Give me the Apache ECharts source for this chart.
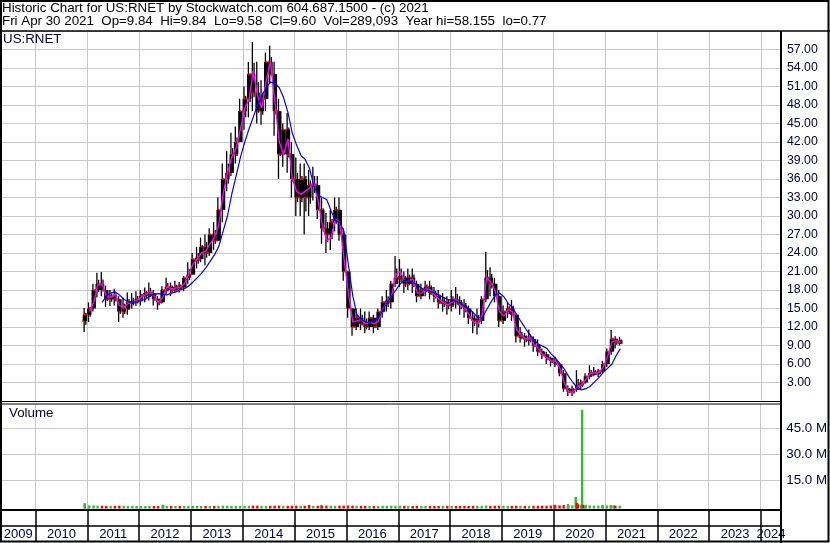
<!DOCTYPE html>
<html><head><meta charset="utf-8">
<script src="https://cdn.jsdelivr.net/npm/echarts@6/dist/echarts.min.js"></script>
<style>html,body{margin:0;padding:0;background:#fff}#c{width:830px;height:543px}</style>
</head><body><div id="c"></div>
<script>
// ---------- data (monthly) ----------
const months = [
 '2010-12',
 '2011-01','2011-02','2011-03','2011-04','2011-05','2011-06','2011-07','2011-08','2011-09','2011-10','2011-11','2011-12',
 '2012-01','2012-02','2012-03','2012-04','2012-05','2012-06','2012-07','2012-08','2012-09','2012-10','2012-11','2012-12',
 '2013-01','2013-02','2013-03','2013-04','2013-05','2013-06','2013-07','2013-08','2013-09','2013-10','2013-11','2013-12',
 '2014-01','2014-02','2014-03','2014-04','2014-05','2014-06','2014-07','2014-08','2014-09','2014-10','2014-11','2014-12',
 '2015-01','2015-02','2015-03','2015-04','2015-05','2015-06','2015-07','2015-08','2015-09','2015-10','2015-11','2015-12',
 '2016-01','2016-02','2016-03','2016-04','2016-05','2016-06','2016-07','2016-08','2016-09','2016-10','2016-11','2016-12',
 '2017-01','2017-02','2017-03','2017-04','2017-05','2017-06','2017-07','2017-08','2017-09','2017-10','2017-11','2017-12',
 '2018-01','2018-02','2018-03','2018-04','2018-05','2018-06','2018-07','2018-08','2018-09','2018-10','2018-11','2018-12',
 '2019-01','2019-02','2019-03','2019-04','2019-05','2019-06','2019-07','2019-08','2019-09','2019-10','2019-11','2019-12',
 '2020-01','2020-02','2020-03','2020-04','2020-05','2020-06','2020-07','2020-08','2020-09','2020-10','2020-11','2020-12',
 '2021-01','2021-02','2021-03','2021-04'
];
const priceHigh = [
 15.1,
 16,19,20.8,20.9,18.7,18,18.2,17,16.8,17.6,17.5,17.8,
 18,18.4,19.2,18,17,18.6,20,19.2,19.5,19.3,20.3,22.5,
 24,25,26.5,27,28,29,33,38.5,40.5,43.5,44.5,49,
 51,55,58.2,55,52,56.5,57.6,55,49,45,46.7,42,
 39.5,38.5,38.5,37.5,38,36.5,33,30.5,31,33,33,28,
 21,15,15,15,14.5,14.5,14,15,17,18,19.5,23.5,
 23,21,21.5,21.5,19.5,19,19.5,19.5,18.5,18,17.5,17,
 18,18.5,17,16.5,15.5,14.5,15,17,24.2,21.7,20,18,
 15.5,16,16.4,13.5,12,11,11.6,10.5,10,8.5,8,7.2,
 7.2,6.3,5,2.5,2.5,5,3.5,4.5,5.8,5.5,5.2,6.5,
 8.5,11.5,10.5,10.4
];
const priceLow = [
 11.2,
 12.8,14.5,16.8,17,15.2,15.4,15.5,12.8,13.5,14,15,15.4,
 15.5,16,16.3,15.5,14.8,15.8,17.3,17,17.6,17.6,17.8,19,
 20.5,21.5,22.5,22,23.5,24.5,26,29,34,36.5,38.5,42,
 44,46,47,45,44.8,47,51.5,43,36,38,37,33,
 30,30,27,30,32.5,29.5,25.5,24,24.5,27.5,26,19.5,
 13.5,10.6,11.5,11.5,11,11.5,11,11.5,13.5,14.5,15,18.5,
 18.5,17.5,18,17.5,16,16.5,17,16.5,16,15,14.5,14,
 14.5,15,14,13.5,12.5,11,10.8,12.5,16,17,16,12,
 12.5,13.5,13,9.5,9.5,8.8,9,8,7.3,6.8,6,5.6,
 5.5,4,1.5,0.8,0.8,1.5,1.8,2.8,3.5,4,3.9,4.5,
 5.5,7.5,8.5,9
];
const priceOpen = [
 13,
 14,15,18,19,18,16.5,17,16.5,14.5,15,16,16,
 16.5,17,17.5,17.5,16.5,16,18,18.5,18,18.5,18.4,20,
 20.5,23,23,25,24,27,26,31,36,37,40,42,
 47,49,53,50,47,49,55,53,47,40,44,40,
 36,33,36,33,35,35,31,28,27,29,31,27,
 21,15,12,13.5,12.5,12,13.5,12,14.5,16,16,19,
 20,20,19,20,19,17,18,18.5,17.5,17,16,16,
 15.5,16.5,16,15.5,15,13.5,13,13,16.5,20,19,17,
 13,14.5,15,14,10.5,10.5,10,10,9,8,7.5,7,
 6.5,6,4.5,2,1.5,1.8,2.5,3,4,4.5,4.5,4.8,
 6,8,10,9.5
];
const priceClose = [
 14,
 15,18,19,18,16.5,17,16.5,14.5,15,16,16,16.5,
 17,17.5,17.5,16.5,16,18,18.5,18,18.5,18.4,20,20.5,
 23,23,25,24,27,26,31,36,37,40,42,47,
 49,53,50,47,49,55,53,47,40,44,40,36,
 33,36,33,35,35,31,28,27,29,31,27,21,
 15,12,13.5,12.5,12,13.5,12,14.5,16,16,19,20,
 20,19,20,19,17,18,18.5,17.5,17,16,16,15.5,
 16.5,16,15.5,15,13.5,13,13,16.5,20,19,17,13,
 14.5,15,14,10.5,10.5,10,10,9,8,7.5,7,6.5,
 6,4.5,2,1.5,1.8,2.5,3,4,4.5,4.5,4.8,6,
 8,10,9.5,9.6
];
const maShort = [
 null,
 14.5,16,18.8,19,17,16.8,17.3,15.5,15.2,15.8,16,16.3,
 16.8,17.2,17.8,17,16,16.8,18.5,18.2,18.3,18.4,19,20.5,
 22.2,23,24,24.3,25.5,26.5,28.5,33.5,37,39.5,41,44,
 47.5,49,53.5,49.5,47.5,52,55,48.5,42,40,42.5,36,
 34,33.5,34,34.5,35.5,32.5,28.5,26,26.5,29.5,29,23,
 17.5,12.8,13,13.2,12.5,12.8,12.5,13,15,16,17,20.5,
 21,19.5,19.5,19.8,17.5,17.5,18.2,18,17.2,16.5,16,15.6,
 16,16.5,15.5,15,14,12.8,12.5,14,20,19.3,17.8,14.5,
 13.8,14.8,14.5,11.5,10.8,10,10.3,9.2,8.5,7.5,7,6.5,
 6.5,5.2,3,1.5,1.4,2.3,2.6,3.5,4.5,4.6,4.6,5.5,
 7.2,9.6,9.8,9.5
];
const maLong = [
 null,
 null,null,null,16,17,17.5,17.7,17.2,16.5,16.1,16,16.1,
 16.3,16.5,17,17.3,17.4,17.3,17.2,17.5,17.7,18,18.2,18.6,
 19.3,20,20.7,21.6,22.6,23.7,25,27.5,30,33.5,36.5,39.5,
 42,44.2,46,48,49.5,50.8,51.7,51.6,50.8,49.2,46.8,43.5,
 41.5,39.8,39.2,37.8,35,33.4,33,32.7,30.8,29.3,29,27.5,
 22,17,14,13.2,12.8,12.8,13,13.5,14.8,16,17,18,
 19,19.6,19.5,19.2,18.8,18.3,18,17.8,17.5,17.2,16.8,16.5,
 16.3,16.2,15.8,15.4,14.9,14.3,13.5,13.5,14.8,16,17.2,17.5,
 16.9,15.8,15.2,14,12.9,11.8,10.8,9.9,9.2,8.9,8.5,7.6,
 6.9,6,5.2,4,3,2.2,1.8,2,2.4,3.1,3.8,4.6,
 5.3,6,7.3,8.5
];
// average daily volume per month, millions of shares
const volumeM = [
 0.9,
 0.5,0.45,0.4,0.35,0.3,0.3,0.25,0.35,0.3,0.25,0.25,0.2,
 0.2,0.2,0.25,0.2,0.2,0.3,0.25,0.2,0.2,0.2,0.2,0.25,
 0.2,0.2,0.25,0.2,0.25,0.25,0.3,0.35,0.3,0.25,0.25,0.3,
 0.3,0.35,0.4,0.35,0.3,0.3,0.3,0.35,0.4,0.35,0.3,0.35,
 0.35,0.3,0.35,0.3,0.3,0.35,0.35,0.4,0.35,0.3,0.35,0.4,
 0.45,0.4,0.3,0.3,0.25,0.25,0.2,0.25,0.3,0.3,0.3,0.35,
 0.3,0.25,0.25,0.2,0.2,0.2,0.2,0.2,0.2,0.2,0.25,0.25,
 0.2,0.2,0.2,0.2,0.2,0.25,0.3,0.3,0.4,0.3,0.3,0.35,
 0.3,0.25,0.25,0.35,0.3,0.25,0.25,0.3,0.3,0.35,0.35,0.4,
 0.5,0.5,0.7,0.8,0.6,1.2,0.9,0.6,0.5,0.4,0.4,0.5,
 0.5,0.6,0.4,0.35
];
// single heavy-volume days
const spikeDates = ['2010-12-14','2012-06-20','2015-04-15','2015-07-10','2020-01-10','2020-04-15','2020-06-08','2020-06-15','2020-06-24','2020-07-23','2020-07-28','2020-08-17','2020-12-15','2021-02-10','2021-03-05'];
const spikeVolumeM = [1.8,0.9,0.8,0.7,0.9,1.3,5.4,2.1,1.2,55.6,0.9,0.9,0.8,0.7,0.6];
const spikeUp = [1,1,0,1,0,1,1,0,0,1,0,1,1,1,1];

const priceTicks = {min:0, max:60, step:3};
const volumeTicksM = [15,30,45];
const yearTicks = [2010,2011,2012,2013,2014,2015,2016,2017,2018,2019,2020,2021,2022,2023,2024];
const xRange = ['2009-05-03','2024-05-21'];

const headerLine1 = 'Historic Chart for US:RNET by Stockwatch.com 604.687.1500 - (c) 2021';
const headerLine2 = 'Fri Apr 30 2021  Op=9.84  Hi=9.84  Lo=9.58  Cl=9.60  Vol=289,093  Year hi=58.155  lo=0.77';

// ---------- helpers ----------
function decYear(s){
  const p = s.split('-').map(Number);
  const y = p[0], m = p[1], d = p[2] || 15;
  const t = Date.UTC(y, m-1, d), t0 = Date.UTC(y,0,1), t1 = Date.UTC(y+1,0,1);
  return y + (t - t0) / (t1 - t0);
}
const xMin = decYear(xRange[0]), xMax = decYear(xRange[1]);
const mx = months.map(decYear);
const ohlc = mx.map((x,i)=>[x, priceOpen[i], priceClose[i], priceLow[i], priceHigh[i]]);
const lineData = arr => mx.map((x,i)=> [x, arr[i]]).filter(d=>d[1]!=null);

const GREEN = '#33bb33', RED = '#ff0000';
const volData = mx.map((x,i)=>({value:[x, volumeM[i]*1e6], itemStyle:{color: priceClose[i]>=priceOpen[i]?GREEN:RED}}))
  .concat(spikeDates.map((d,i)=>({value:[decYear(d), spikeVolumeM[i]*1e6], itemStyle:{color: spikeUp[i]?GREEN:RED}})))
  .sort((a,b)=>a.value[0]-b.value[0]);

const labelPos = [];
for (let y = Math.floor(xMin); y <= Math.floor(xMax); y++) {
  const a = Math.max(y, xMin), b = Math.min(y+1, xMax);
  labelPos.push((a+b)/2);
}

const FONT = '"Liberation Sans", Arial, sans-serif';
const TXT = '#000040';
const GRIDC = '#c8c8c8';
const FS = 13.33;

const chart = echarts.init(document.getElementById('c'), null, {renderer:'canvas'});
const L = 1, R = 49;
const xBase = (idx, extra) => Object.assign({
  type:'value', gridIndex: idx, min: xMin, max: xMax,
  axisLine:{show:false},
  axisTick:{show:false, customValues: yearTicks},
  axisLabel:{show:false},
  splitLine:{show:true, lineStyle:{color:GRIDC, width:1}}
}, extra||{});

chart.setOption({
  animation:false,
  backgroundColor:'#fff',
  title:[
    {text: headerLine1 + '\n' + headerLine2, left: 2, top: 1.5, padding:0,
     textStyle:{fontFamily:FONT, fontSize:FS, fontWeight:'normal', color:'#000', lineHeight:13.4}},
    {text:'US:RNET', left: 3, top: 33, padding:0,
     textStyle:{fontFamily:FONT, fontSize:FS, fontWeight:'normal', color:TXT, lineHeight:13}},
    {text:'Volume', left: 9, top: 407, padding:0,
     textStyle:{fontFamily:FONT, fontSize:FS, fontWeight:'normal', color:TXT, lineHeight:13}}
  ],
  grid:[
    {left:L, right:R, top:31, height:370},
    {left:L, right:R, top:404, height:106},
    {left:L, right:R, top:510, height:16}
  ],
  xAxis:[
    xBase(0),
    xBase(1),
    xBase(2, {
      axisLine:{show:true, onZero:false, lineStyle:{color:'#000', width:1.5}},
      axisTick:{show:true, customValues: yearTicks, length:15, inside:false, lineStyle:{color:'#000', width:1.5}},
      axisLabel:{show:true, customValues: labelPos, formatter: v => String(Math.floor(v)),
        margin:2, fontFamily:FONT, fontSize:13, color:TXT},
      splitLine:{show:true, lineStyle:{color:'#000', width:1.5}}
    })
  ],
  yAxis:[
    {type:'value', gridIndex:0, position:'right', min:priceTicks.min, max:priceTicks.max, interval:priceTicks.step,
     axisLine:{show:false}, axisTick:{show:false},
     axisLabel:{showMinLabel:false, showMaxLabel:false, formatter: v => v.toFixed(2), margin:6,
       fontFamily:FONT, fontSize:12.3, color:TXT},
     splitLine:{show:true, lineStyle:{color:GRIDC, width:1}}},
    {type:'value', gridIndex:1, position:'right', min:-2.13e6, max:59.0e6, startValue:-1.3e6,
     axisLine:{show:false},
     axisTick:{show:false, customValues: volumeTicksM.map(v=>v*1e6)},
     axisLabel:{customValues: volumeTicksM.map(v=>v*1e6), formatter: v => (v/1e6).toFixed(1)+' M', margin:6,
       fontFamily:FONT, fontSize:FS, color:TXT},
     splitLine:{show:true, lineStyle:{color:GRIDC, width:1}}},
    {type:'value', gridIndex:2, show:false, min:0, max:1, splitLine:{show:false}}
  ],
  series:[
    {type:'custom', xAxisIndex:0, yAxisIndex:0, data: ohlc, clip:true,
     encode:{x:0, y:[1,2,3,4]},
     renderItem(params, api){
       const x = api.value(0);
       const po = api.coord([x, api.value(1)]), pc = api.coord([x, api.value(2)]);
       const pl = api.coord([x, api.value(3)]), ph = api.coord([x, api.value(4)]);
       const w = 4.4;
       const mid = (po[1]+pc[1])/2, hh = Math.max(3.2, Math.abs(po[1]-pc[1]));
       return {type:'group', children:[
         {type:'line', shape:{x1:pl[0]-0.8, y1:pl[1], x2:ph[0]-0.8, y2:ph[1]}, style:{stroke:'#000', lineWidth:1.3}},
         {type:'line', shape:{x1:pl[0]+0.9, y1:(pl[1]+mid)/2, x2:ph[0]+0.9, y2:(ph[1]+mid)/2}, style:{stroke:'#000', lineWidth:1.3}},
         {type:'rect', shape:{x:po[0]-w/2, y:mid-hh/2, width:w, height:hh}, style:{fill:'#000'}}
       ]};
     }},
    {type:'scatter', xAxisIndex:0, yAxisIndex:0, data: mx.map((x,i)=>[x, priceClose[i]]),
     symbol:'rect', symbolSize:[2,2], itemStyle:{color:RED}, silent:true, z:3},
    {type:'scatter', xAxisIndex:0, yAxisIndex:0, data: mx.map((x,i)=>[x, priceOpen[i]]),
     symbol:'rect', symbolSize:[2,2], symbolOffset:[-2,0], itemStyle:{color:RED}, silent:true, z:3},
    {type:'line', xAxisIndex:0, yAxisIndex:0, data: lineData(maShort), showSymbol:false, symbol:'none',
     lineStyle:{color:'#ff00ff', width:1.4}, z:4},
    {type:'line', xAxisIndex:0, yAxisIndex:0, data: lineData(maLong), showSymbol:false, symbol:'none',
     lineStyle:{color:'#0000ff', width:1.2}, z:5},
    {type:'bar', xAxisIndex:1, yAxisIndex:1, data: volData, barWidth:2.4, z:3}
  ],
  graphic:[
    {type:'rect', shape:{x:1, y:1, width:827.5, height:540.5}, style:{fill:null, stroke:'#000', lineWidth:2}, z:100},
    {type:'line', shape:{x1:0, y1:31, x2:830, y2:31}, style:{stroke:'#000', lineWidth:1.5}, z:100},
    {type:'line', shape:{x1:781, y1:31, x2:781, y2:543}, style:{stroke:'#000', lineWidth:2}, z:100},
    {type:'line', shape:{x1:0, y1:401.5, x2:781, y2:401.5}, style:{stroke:'#000', lineWidth:1}, z:100},
    {type:'line', shape:{x1:0, y1:404, x2:781, y2:404}, style:{stroke:'#000', lineWidth:1}, z:100},
    {type:'line', shape:{x1:0, y1:510, x2:781, y2:510}, style:{stroke:'#000', lineWidth:2}, z:100}
  ]
});
</script>
</body></html>
